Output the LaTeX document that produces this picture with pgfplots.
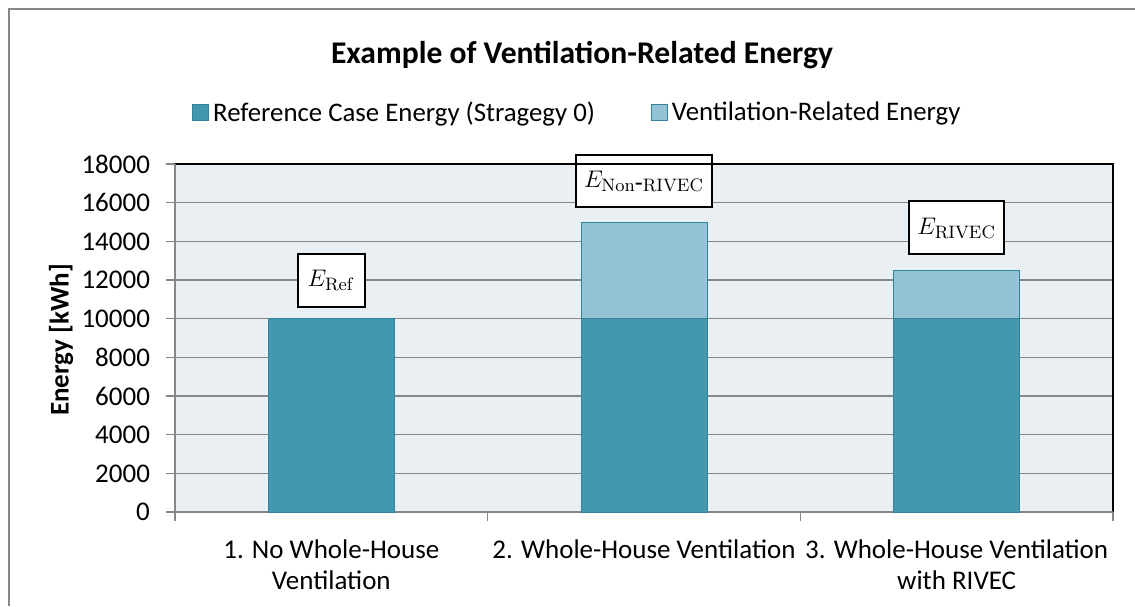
\documentclass[border=0pt]{standalone}
\usepackage{pgfplots}
\pgfplotsset{compat=1.18}
\usepackage[no-math]{fontspec}
\setmainfont{Carlito}
\definecolor{refcol}{HTML}{4397AE}
\definecolor{ventcol}{HTML}{93C3D4}
\definecolor{edgecol}{HTML}{31849B}
\definecolor{plotbg}{HTML}{E9EFF2}
\definecolor{gridcol}{HTML}{878787}

\begin{document}
\begin{tikzpicture}
\useasboundingbox (-87.5pt,-47pt) rectangle (480pt,256pt);
\draw[gridcol, line width=1pt] (-83pt,-47pt) -- (-83pt,251.5pt) -- (480pt,251.5pt);
% title and y label
\node[font=\fontsize{15.8}{18}\selectfont\bfseries] at (203.5pt,228.5pt) {Example of Ventilation-Related Energy};
\node[rotate=90, font=\fontsize{13.5}{15}\selectfont\bfseries] at (-57pt,86pt) {Energy [kWh]};
\begin{axis}[
    scale only axis,
    width=469pt, height=174pt,
    at={(0,0)}, anchor=south west,
    clip=false,
    ybar stacked, bar width=63pt,
    xmin=-0.5, xmax=2.5,
    ymin=0, ymax=18000,
    ytick={0,2000,...,18000},
    xtick={0,1,2},
    xticklabels={{1. No Whole-House\\Ventilation},{2. Whole-House Ventilation},{3. Whole-House Ventilation\\with RIVEC}},
    minor xtick={-0.5,0.5,1.5,2.5},
    every major x tick/.append style={draw=none},
    xtick pos=bottom, ytick pos=left,
    tick align=outside,
    major tick length=4.5pt, minor tick length=4.5pt,
    tick style={gridcol, line width=0.6pt},
    ymajorgrids,
    grid style={gridcol, line width=0.6pt},
    axis line style={draw=none},
    axis background/.style={fill=plotbg},
    scaled y ticks=false,
    /pgf/number format/set thousands separator={},
    /pgf/number format/assume math mode=true,
    ticklabel style={font=\fontsize{13.5}{15.5}\selectfont},
    yticklabel style={xshift=-4.5pt},
    xticklabel style={align=center, yshift=-6pt},
    legend style={at={(0.430,1.1466)}, anchor=center, draw=none, fill=none,
        legend columns=2, font=\fontsize{13.4}{15}\selectfont,
        /tikz/every even column/.append style={column sep=26pt}},
    legend cell align=left,
    legend image code/.code={\path[#1] (0pt,-4pt) rectangle (8pt,4pt);},
]
\addplot[fill=refcol, draw=edgecol, line width=0.5pt]
    coordinates {(0,10000) (1,10000) (2,10000)};
\addlegendentry{Reference Case Energy (Stragegy 0)}
\addplot[fill=ventcol, draw=edgecol, line width=0.5pt]
    coordinates {(0,0) (1,5000) (2,2500)};
\addlegendentry{Ventilation-Related Energy}

\draw[gridcol, line width=0.6pt] (rel axis cs:0,1) -- (rel axis cs:0,0) -- (rel axis cs:1,0);
\draw[black, line width=0.8pt] (rel axis cs:0,1) -- (rel axis cs:1,1) -- (rel axis cs:1,0);

\node[draw, line width=1pt, fill=white, minimum height=26.5pt, inner xsep=5pt,
      font=\fontsize{13}{13}\selectfont] at (axis cs:0,12000) {$E_{\mathrm{Ref}}$};
\node[draw, line width=1pt, fill=white, minimum height=26pt, inner xsep=4pt,
      font=\fontsize{13}{13}\selectfont] at (axis cs:1,17121) {$E_{\mathrm{Non\mbox{-}RIVEC}}$};
\node[draw, line width=1pt, fill=white, minimum height=26.5pt, inner xsep=4pt,
      font=\fontsize{13}{13}\selectfont] at (axis cs:2,14690) {$E_{\mathrm{RIVEC}}$};
\end{axis}
\end{tikzpicture}
\end{document}
